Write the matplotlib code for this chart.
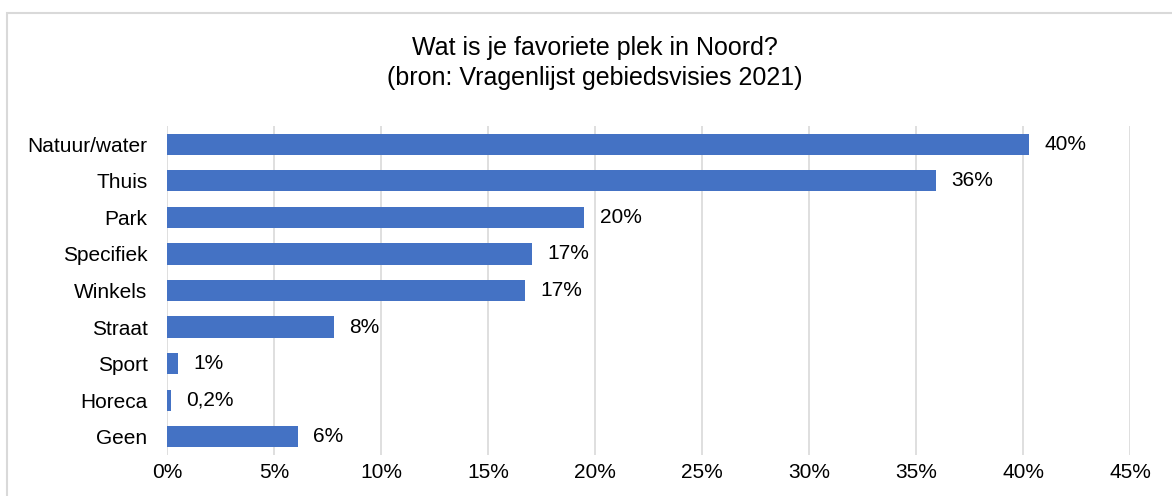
import matplotlib.pyplot as plt
from matplotlib.patches import Rectangle
from matplotlib.ticker import FuncFormatter

plt.rcParams["font.family"] = ["Liberation Sans", "DejaVu Sans"]

categories = ["Natuur/water", "Thuis", "Park", "Specifiek", "Winkels",
              "Straat", "Sport", "Horeca", "Geen"]
values = [40.3, 35.95, 19.5, 17.05, 16.75, 7.8, 0.5, 0.2, 6.1]
labels = ["40%", "36%", "20%", "17%", "17%", "8%", "1%", "0,2%", "6%"]

fig = plt.figure(figsize=(11.72, 4.96), dpi=100)
ax = fig.add_axes([0.1425, 0.0827, 0.8217, 0.6633])

# grey frame around the whole chart (cropped on right/bottom)
fig.patches.append(Rectangle((7 / 1172, -0.1), 1.2, (496 - 13) / 496 + 0.1,
                             transform=fig.transFigure, fill=False,
                             edgecolor="#d9d9d9", linewidth=1.5))

y = list(range(len(categories)))
ax.barh(y, values, height=0.58, color="#4472C4", zorder=3)
for yi, v, lab in zip(y, values, labels):
    ax.annotate(lab, (v, yi), xytext=(11, 0), textcoords="offset points",
                va="center", ha="left", fontsize=15)

ax.set_yticks(y)
ax.set_yticklabels(categories, fontsize=15)
ax.set_ylim(len(categories) - 0.5, -0.5)
ax.set_xlim(0, 45)
ax.set_xticks(range(0, 46, 5))
ax.xaxis.set_major_formatter(FuncFormatter(lambda x, p: "%d%%" % x))
ax.tick_params(axis="x", labelsize=15, length=0, pad=6)
ax.tick_params(axis="y", length=0, pad=14)
ax.grid(axis="x", color="#d9d9d9", linewidth=1.2, zorder=0)
for s in ax.spines.values():
    s.set_visible(False)

fig.text(595 / 1172, 1 - 48 / 496, "Wat is je favoriete plek in Noord?",
         ha="center", va="center", fontsize=18)
fig.text(595 / 1172, 1 - 78 / 496, "(bron: Vragenlijst gebiedsvisies 2021)",
         ha="center", va="center", fontsize=18)

fig.savefig("out.png", dpi=100)
